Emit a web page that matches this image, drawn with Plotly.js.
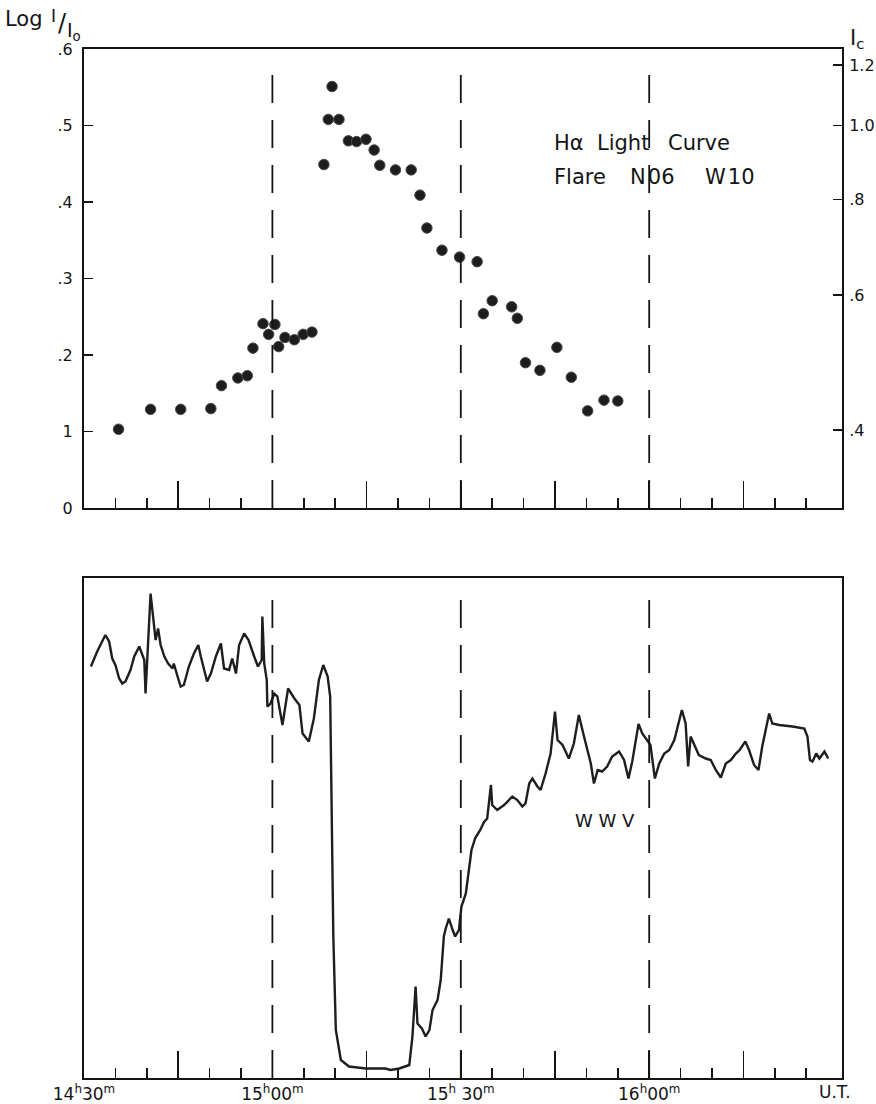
<!DOCTYPE html>
<html>
<head>
<meta charset="utf-8">
<script src="https://cdn.plot.ly/plotly-3.0.1.min.js"></script>
<style>html,body{margin:0;padding:0;background:#fff;}#chart{width:876px;height:1104px;}</style>
</head>
<body>
<div id="chart"></div>
<script>
// ---- Data (time in minutes after 14h00m U.T.) ----
const flareMinutes = [35.5, 40.6, 45.4, 50.2, 51.9, 54.5, 56.0, 56.9, 58.5, 59.4, 60.4, 61.0, 62.0, 63.5, 64.9, 66.3,
  68.2, 68.9, 69.5, 70.6, 72.1, 73.4, 74.9, 76.2, 77.1, 79.6, 82.1, 83.5, 84.6, 87.0, 89.8, 92.6, 93.6, 95.0,
  98.1, 99.0, 100.3, 102.6, 105.3, 107.6, 110.2, 112.8, 115.0];
const flareLogI = [0.103, 0.129, 0.129, 0.130, 0.160, 0.170, 0.173, 0.209, 0.241, 0.227, 0.240, 0.211, 0.223, 0.220, 0.227, 0.230,
  0.449, 0.508, 0.551, 0.508, 0.480, 0.479, 0.482, 0.468, 0.448, 0.442, 0.442, 0.409, 0.366, 0.337, 0.328, 0.322, 0.254, 0.271,
  0.263, 0.248, 0.190, 0.180, 0.210, 0.171, 0.127, 0.141, 0.140];

const wwvMinutes = [31.1, 32.1, 33.4, 34.0, 34.5, 35.0, 35.6, 36.1, 36.6, 37.4, 38.0, 38.8, 39.3, 39.6, 39.8, 40.1, 40.6, 41.0,
  41.4, 41.8, 42.2, 42.8, 43.4, 44.1, 44.3, 44.9, 45.4, 45.9, 46.7, 47.5, 48.2, 48.6, 49.6, 50.2, 51.0, 51.8, 52.3, 53.1,
  53.6, 54.2, 54.7, 55.5, 56.2, 57.1, 57.7, 58.3, 58.4, 58.7, 59.1, 59.2, 59.7, 60.3, 60.8, 61.6, 62.5, 63.5, 64.3, 64.8,
  65.8, 66.6, 67.4, 68.1, 68.8, 69.2, 69.4, 69.7, 70.1, 70.9, 72.2, 74.9, 78.0, 78.8, 80.2, 81.8, 82.3, 82.8, 83.1, 83.8,
  84.4, 85.0, 85.5, 86.3, 86.8, 87.3, 87.6, 88.1, 88.7, 89.1, 89.7, 90.1, 90.8, 91.3, 91.7, 92.3, 93.1, 93.7, 94.2, 94.8,
  95.0, 95.8, 96.9, 98.2, 99.0, 99.8, 100.3, 100.9, 101.4, 102.2, 102.7, 103.5, 104.3, 105.0, 105.4, 106.2, 107.2, 108.0,
  108.8, 109.5, 110.2, 110.7, 111.2, 111.8, 112.5, 113.3, 114.1, 115.2, 116.0, 116.7, 117.3, 118.3, 118.9, 119.7, 120.2,
  120.9, 121.6, 122.4, 123.2, 124.0, 124.5, 125.2, 125.8, 126.2, 126.6, 127.1, 127.9, 129.0, 129.8, 130.6, 131.4, 132.2,
  133.0, 133.8, 134.4, 135.3, 135.9, 136.7, 137.4, 138.0, 138.8, 139.1, 139.6, 140.7, 142.8, 144.7, 145.2, 145.6, 146.0,
  146.6, 147.1, 147.9, 148.5];
const wwvSignal = [82.3, 85.3, 88.6, 87.3, 83.9, 82.6, 79.9, 78.9, 79.3, 81.6, 84.3, 86.3, 84.6, 83.6, 76.9, 84.9, 96.9, 92.3,
  87.6, 89.9, 86.6, 84.3, 82.9, 81.9, 82.9, 80.3, 78.3, 78.6, 82.3, 84.9, 86.6, 84.3, 79.3, 80.9, 84.3, 86.9, 81.9, 81.6,
  83.9, 80.9, 86.6, 88.9, 87.6, 84.3, 82.3, 83.6, 92.3, 82.9, 79.6, 74.3, 74.9, 76.9, 76.3, 70.6, 77.9, 75.9, 74.6, 68.9,
  67.3, 71.9, 79.6, 82.6, 80.3, 76.3, 54.9, 28.3, 9.6, 3.6, 2.3, 1.9, 1.9, 1.6, 1.9, 2.6, 8.3, 18.3, 10.9, 9.9,
  8.3, 9.6, 13.6, 15.6, 19.6, 28.3, 29.9, 31.9, 29.6, 28.3, 29.6, 34.3, 36.9, 41.6, 45.6, 48.0, 49.6, 51.2, 51.9, 58.6,
  54.6, 53.6, 54.6, 56.3, 55.6, 54.3, 54.9, 58.9, 59.9, 58.3, 57.6, 60.9, 64.9, 73.3, 67.6, 66.6, 63.9, 66.9,
  72.6, 68.9, 65.3, 62.9, 58.9, 61.6, 61.3, 62.3, 64.3, 65.3, 63.6, 59.9, 63.3, 70.8, 68.9, 67.6, 66.6,
  59.9, 62.9, 64.9, 65.6, 67.6, 70.3, 73.6, 70.9, 62.3, 68.3, 66.9, 64.6, 63.9, 63.6, 61.6, 60.1, 62.9,
  63.6, 64.9, 65.6, 67.3, 65.6, 62.6, 61.6, 66.3, 70.9, 72.9, 70.9, 70.6, 70.3, 69.9, 68.3, 63.6, 63.3,
  64.9, 63.9, 65.3, 63.9];

const majorTickMinutes = [30, 45, 60, 75, 90, 105, 120, 135];
const majorTickLabels = ['14<sup>h</sup>30<sup>m</sup>', '', '15<sup>h</sup>00<sup>m</sup>', '', '15<sup>h</sup> 30<sup>m</sup>', '', '16<sup>h</sup>00<sup>m</sup>', ''];
const minorTickMinutes = [35, 40, 50, 55, 65, 70, 80, 85, 95, 100, 110, 115, 125, 130, 140, 145];
const dashedMinutes = [60, 90, 120];
const leftTickVals = [0, 0.1, 0.2, 0.3, 0.4, 0.5, 0.6];
const leftTickText = ['0', '1', '.2', '.3', '.4', '.5', '.6'];
const rightTickVals = [0.4, 0.6, 0.8, 1.0, 1.2];
const rightTickText = ['.4', '.6', '.8', '1.0', '1.2'];

// ---- Plot ----
const INK = '#141414';
const FONT = 'DejaVu Sans';
const xRange = [30, 150.7];

const traces = [
  { x: flareMinutes, y: flareLogI, xaxis: 'x', yaxis: 'y', type: 'scatter', mode: 'markers',
    marker: { size: 10.5, color: '#1d1d1d', line: { width: 1, color: '#4a4a4a' } }, hoverinfo: 'x+y' },
  { x: [], y: [], xaxis: 'x', yaxis: 'y2', type: 'scatter', mode: 'markers', hoverinfo: 'skip' },
  { x: wwvMinutes, y: wwvSignal, xaxis: 'x2', yaxis: 'y3', type: 'scatter', mode: 'lines',
    line: { color: '#1e1e1e', width: 2.4 }, hoverinfo: 'x+y' }
];

const xCommon = {
  range: xRange, showgrid: false, zeroline: false, showline: true, mirror: true,
  linecolor: INK, linewidth: 2,
  tickmode: 'array', tickvals: majorTickMinutes, ticks: 'inside', ticklen: 27, tickwidth: 1.6, tickcolor: INK,
  minor: { tickmode: 'array', tickvals: minorTickMinutes, ticks: 'inside', ticklen: 10, tickwidth: 1.6, tickcolor: INK, showgrid: false }
};

const shapes = [];
dashedMinutes.forEach(t => {
  shapes.push({ type: 'line', xref: 'x', yref: 'y domain', x0: t, x1: t, y0: 0, y1: 0.955,
    line: { color: INK, width: 1.8, dash: '28px,17px' } });
  shapes.push({ type: 'line', xref: 'x2', yref: 'y3 domain', x0: t, x1: t, y0: 0, y1: 0.97,
    line: { color: INK, width: 1.8, dash: '28px,17px' } });
});

const ann = (o) => Object.assign({ showarrow: false, font: { family: FONT, size: 21, color: INK } }, o);

const layout = {
  width: 876, height: 1104,
  margin: { l: 84, r: 34, t: 49, b: 26 },
  paper_bgcolor: '#fff', plot_bgcolor: '#fff',
  showlegend: false,
  font: { family: FONT, color: INK, size: 15 },
  xaxis: Object.assign({}, xCommon, { anchor: 'y', domain: [0, 1], showticklabels: false, ticktext: majorTickLabels }),
  yaxis: { domain: [0.5539, 1], range: [0, 0.6], showgrid: false, zeroline: false, showline: true, mirror: false,
    linecolor: INK, linewidth: 2, tickmode: 'array', tickvals: leftTickVals, ticktext: leftTickText,
    ticks: 'inside', ticklen: 9, tickwidth: 1.6, tickcolor: INK, ticklabelstandoff: 6,
    tickfont: { family: FONT, size: 16, color: INK } },
  yaxis2: { overlaying: 'y', side: 'right', anchor: 'x', type: 'log', range: [-0.5, 0.1],
    showgrid: false, zeroline: false, showline: true, linecolor: INK, linewidth: 2,
    tickmode: 'array', tickvals: rightTickVals, ticktext: rightTickText,
    ticks: 'inside', ticklen: 9, tickwidth: 1.6, tickcolor: INK, ticklabelstandoff: 2,
    tickfont: { family: FONT, size: 16, color: INK } },
  xaxis2: Object.assign({}, xCommon, { anchor: 'y3', domain: [0, 1], showticklabels: true, ticktext: majorTickLabels,
    ticklabelstandoff: 0, tickfont: { family: FONT, size: 17, color: INK } }),
  yaxis3: { domain: [0, 0.4859], range: [0, 100], anchor: 'x2', showgrid: false, zeroline: false,
    showline: true, mirror: true, linecolor: INK, linewidth: 2, showticklabels: false, ticks: '' },
  shapes: shapes,
  annotations: [
    ann({ xref: 'paper', yref: 'paper', x: -0.107, y: 1.0295, xanchor: 'left', yanchor: 'middle',
      text: 'Log', font: { family: FONT, size: 21, color: INK } }),
    ann({ xref: 'paper', yref: 'paper', x: -0.046, y: 1.0325, xanchor: 'left', yanchor: 'middle',
      text: 'I', font: { family: FONT, size: 17, color: INK } }),
    ann({ xref: 'paper', yref: 'paper', x: -0.037, y: 1.025, xanchor: 'left', yanchor: 'middle',
      text: '/', font: { family: FONT, size: 24, color: INK } }),
    ann({ xref: 'paper', yref: 'paper', x: -0.0255, y: 1.017, xanchor: 'left', yanchor: 'middle',
      text: 'I<sub>o</sub>', font: { family: FONT, size: 19, color: INK } }),
    ann({ xref: 'paper', yref: 'paper', x: 1.0075, y: 1.0095, xanchor: 'left', yanchor: 'middle',
      text: 'I<sub>c</sub>', font: { family: FONT, size: 21, color: INK } }),
    ann({ xref: 'x', yref: 'y', x: 104.6, y: 0.477, xanchor: 'left', yanchor: 'middle', text: 'Hα' }),
    ann({ xref: 'x', yref: 'y', x: 111.3, y: 0.477, xanchor: 'left', yanchor: 'middle', text: 'Light' }),
    ann({ xref: 'x', yref: 'y', x: 122.6, y: 0.477, xanchor: 'left', yanchor: 'middle', text: 'Curve' }),
    ann({ xref: 'x', yref: 'y', x: 104.6, y: 0.433, xanchor: 'left', yanchor: 'middle', text: 'Flare' }),
    ann({ xref: 'x', yref: 'y', x: 116.6, y: 0.433, xanchor: 'left', yanchor: 'middle', text: 'N\u200A06' }),
    ann({ xref: 'x', yref: 'y', x: 128.6, y: 0.433, xanchor: 'left', yanchor: 'middle', text: 'W\u200A10' }),
    ann({ xref: 'x2', yref: 'y3', x: 112.9, y: 51.6, xanchor: 'center', yanchor: 'middle', text: 'W W V',
      font: { family: FONT, size: 18, color: INK } }),
    ann({ xref: 'paper', yref: 'paper', x: 0.991, y: -0.0136, xanchor: 'center', yanchor: 'middle', text: 'U.T.',
      font: { family: FONT, size: 17, color: INK } })
  ]
};

Plotly.newPlot('chart', traces, layout, { staticPlot: true, displayModeBar: false });
</script>
</body>
</html>
